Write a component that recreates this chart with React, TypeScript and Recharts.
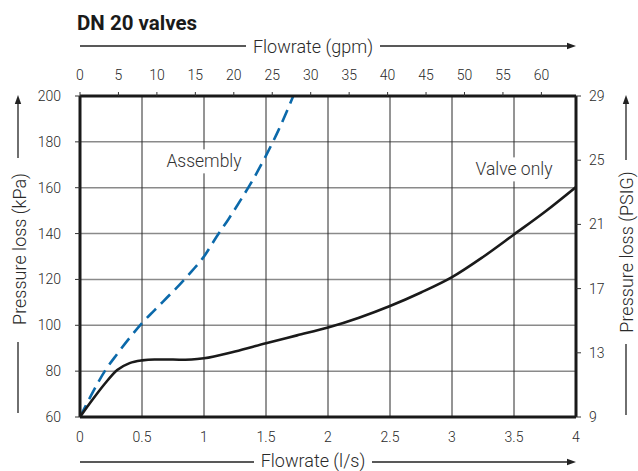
import { LineChart, Line, XAxis, YAxis, CartesianGrid, ReferenceDot } from 'recharts';

// flowrate (l/s) and pressure loss (kPa)
const flowValve = [0, 0.1, 0.2, 0.3, 0.4, 0.5, 0.6, 0.7, 0.8, 0.9, 1, 1.25, 1.5, 1.75, 2, 2.25, 2.5, 2.75, 3, 3.25, 3.5, 3.75, 4];
const lossValve = [60, 67.5, 74.5, 80.5, 83.5, 84.7, 85.1, 85.1, 85, 85.1, 85.6, 88.6, 92.2, 95.6, 99, 103.3, 108.4, 114.3, 121, 129.8, 139.6, 149.5, 160.3];

const flowAssembly = [0, 0.1, 0.2, 0.3, 0.4, 0.5, 0.6, 0.7, 0.8, 0.9, 1, 1.1, 1.2, 1.3, 1.4, 1.5, 1.6, 1.72];
const lossAssembly = [60, 70.5, 80, 87.5, 94.5, 101, 106.5, 112, 117.5, 123.5, 130, 138.5, 146.5, 155, 164, 174, 185, 200];

const lpsTicks = [0, 0.5, 1, 1.5, 2, 2.5, 3, 3.5, 4];
const gpmTicks = [0, 5, 10, 15, 20, 25, 30, 35, 40, 45, 50, 55, 60];
const kpaTicks = [60, 80, 100, 120, 140, 160, 180, 200];
const psiTicks = [9, 13, 17, 21, 25, 29];

const valveData = flowValve.map((q, i) => ({ q, p: lossValve[i] }));
const assemblyData = flowAssembly.map((q, i) => ({ q, p: lossAssembly[i] }));
// rows only so the secondary (gpm) axis has something to bind to
const gpmRows = gpmTicks.map((gpm) => ({ gpm }));

const FONT = 'Roboto, "DejaVu Sans", sans-serif';
const tickStyle = { fontSize: 14, fill: '#2a2a2a', fontFamily: FONT, fontWeight: 300 };
const axisLineStyle = { stroke: '#1a1a1a', strokeWidth: 3 };

const fmt = (v: number) => String(v);

const boxLabel = (text: string, w: number) => (props: any) => {
  const vb = props.viewBox || {};
  const cx = vb.x + (vb.width || 0) / 2;
  const cy = vb.y + (vb.height || 0) / 2;
  return (
    <g>
      <rect x={cx - w / 2} y={cy - 12} width={w} height={24} fill="#fff" />
      <text x={cx} y={cy} dy="0.35em" textAnchor="middle" fontSize={17.5} fontFamily={FONT} fontWeight={300} fill="#333">
        {text}
      </text>
    </g>
  );
};

function Arrow({ x1, y1, x2, y2 }: { x1: number; y1: number; x2: number; y2: number }) {
  // arrowhead at (x2, y2)
  const dx = x2 - x1, dy = y2 - y1;
  const len = Math.hypot(dx, dy);
  const ux = dx / len, uy = dy / len;
  const bx = x2 - ux * 9, by = y2 - uy * 9;
  return (
    <g>
      <line x1={x1} y1={y1} x2={bx} y2={by} stroke="#222" strokeWidth={1.3} />
      <polygon points={`${x2},${y2} ${bx - uy * 3.2},${by + ux * 3.2} ${bx + uy * 3.2},${by - ux * 3.2}`} fill="#222" />
    </g>
  );
}

const titleText = { fontSize: 18, fontWeight: 300, fontFamily: FONT, fill: '#2a2a2a' } as const;

export default function App() {
  return (
    <div style={{ position: 'absolute', left: 0, top: 0, width: 638, height: 471, background: '#fff' }}>
      <LineChart width={638} height={471} data={gpmRows} margin={{ top: 66, right: 12, bottom: 24, left: 20 }}>
        <CartesianGrid xAxisId="lps" yAxisId="kpa" horizontal={true} vertical={false} stroke="#8a8a8a" strokeWidth={1.5} />
        <CartesianGrid xAxisId="lps" yAxisId="kpa" horizontal={false} vertical={true} stroke="#2a2a2a" strokeWidth={1} />
        <XAxis
          xAxisId="lps" dataKey="q" type="number" domain={[0, 4]} ticks={lpsTicks}
          allowDataOverflow tickFormatter={fmt} tick={tickStyle}
          tickLine={false} tickSize={6} tickMargin={9} height={30}
          axisLine={axisLineStyle}
        />
        <XAxis
          xAxisId="gpm" dataKey="gpm" orientation="top" type="number" domain={[0, 64.5]} ticks={gpmTicks}
          allowDataOverflow tick={tickStyle}
          tickLine={{ stroke: '#333' }} tickSize={4} tickMargin={12} height={30}
          axisLine={axisLineStyle}
        />
        <YAxis
          yAxisId="kpa" type="number" domain={[60, 200]} ticks={kpaTicks}
          allowDataOverflow tick={tickStyle}
          tickLine={{ stroke: '#333' }} tickSize={5} tickMargin={14} width={60}
          axisLine={axisLineStyle}
        />
        <YAxis
          yAxisId="psi" orientation="right" type="number" domain={[9, 29]} ticks={psiTicks}
          allowDataOverflow tick={tickStyle}
          tickLine={{ stroke: '#333' }} tickSize={5} tickMargin={8} width={50}
          axisLine={axisLineStyle}
        />
        <Line
          xAxisId="lps" yAxisId="kpa" data={assemblyData} dataKey="p" type="monotone"
          stroke="#0b69aa" strokeWidth={2.6} strokeDasharray="13 7" dot={false} isAnimationActive={false}
        />
        <Line
          xAxisId="lps" yAxisId="kpa" data={valveData} dataKey="p" type="monotone"
          stroke="#1a1a1a" strokeWidth={2.6} dot={false} isAnimationActive={false}
        />
        <ReferenceDot xAxisId="lps" yAxisId="kpa" x={1} y={171.5} r={1} fill="none" stroke="none" label={{ content: boxLabel('Assembly', 84) }} />
        <ReferenceDot xAxisId="lps" yAxisId="kpa" x={3.5} y={168} r={1} fill="none" stroke="none" label={{ content: boxLabel('Valve only', 90) }} />
      </LineChart>
      <svg width={638} height={471} style={{ position: 'absolute', left: 0, top: 0, pointerEvents: 'none' }}>
        <text x={77} y={30} fontSize={20.5} fontWeight={700} fontFamily={FONT} fill="#1a1a1a">DN 20 valves</text>
        <text x={313} y={53} textAnchor="middle" {...titleText}>Flowrate (gpm)</text>
        <line x1={80} y1={46} x2={246} y2={46} stroke="#222" strokeWidth={1.3} />
        <Arrow x1={380} y1={46} x2={576} y2={46} />
        <text x={313} y={467} textAnchor="middle" {...titleText}>Flowrate (l/s)</text>
        <line x1={80} y1={462} x2={254} y2={462} stroke="#222" strokeWidth={1.3} />
        <Arrow x1={372} y1={462} x2={576} y2={462} />
        <text transform="translate(26,249) rotate(-90)" textAnchor="middle" {...titleText}>Pressure loss (kPa)</text>
        <Arrow x1={18} y1={158} x2={18} y2={95} />
        <line x1={18} y1={342} x2={18} y2={413} stroke="#222" strokeWidth={1.3} />
        <text transform="translate(633,252) rotate(-90)" textAnchor="middle" {...titleText}>Pressure loss (PSIG)</text>
        <Arrow x1={626} y1={160} x2={626} y2={95} />
        <line x1={626} y1={344} x2={626} y2={415} stroke="#222" strokeWidth={1.3} />
      </svg>
    </div>
  );
}
